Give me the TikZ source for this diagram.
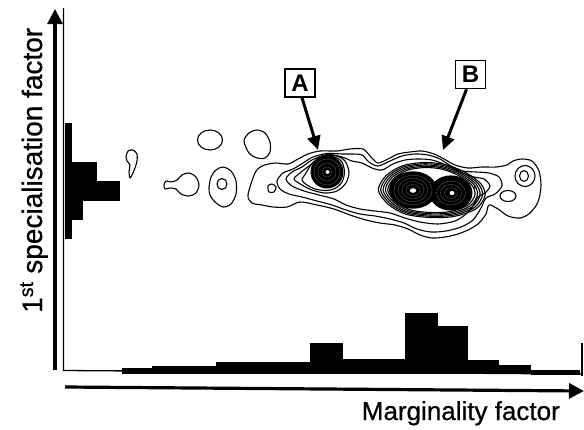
\documentclass[tikz,border=0pt]{standalone}
\usepackage{fontspec}
\setmainfont{Liberation Sans}
\newfontfamily\scanfont[FakeBold=0.7]{Liberation Sans}
\usetikzlibrary{arrows.meta}
\begin{document}
\begin{tikzpicture}[x=1pt,y=-1pt,
  contour/.style={line width=1.1pt, line join=round},
  gapring/.style={draw=black!55, line width=0.25pt},
  histbar/.style={fill=black, draw=none},
  axisarrow/.style={line width=3.2pt, -{Triangle[length=15pt,width=15pt]}},
  frameline/.style={line width=1.3pt},
  labelbox/.style={draw, line width=1.6pt, minimum width=30pt, minimum height=28pt, inner sep=0pt, font=\fontsize{24}{24}\selectfont\bfseries},
  pointer/.style={line width=3pt, -{Triangle[length=14pt,width=13pt]}},
]
\useasboundingbox (0,0) rectangle (584,429);

% histograms
\fill[histbar] (122,374) rectangle (152,367.5);
\fill[histbar] (152,374) rectangle (216,365.5);
\fill[histbar] (216,374) rectangle (310,361.5);
\fill[histbar] (310,374) rectangle (343,342.5);
\fill[histbar] (343,374) rectangle (405,359);
\fill[histbar] (405,374) rectangle (438,312.5);
\fill[histbar] (438,374) rectangle (468,325.5);
\fill[histbar] (468,374) rectangle (499,360);
\fill[histbar] (499,374) rectangle (531,365);
\fill[histbar] (531,375) rectangle (580,369.5);

\fill[histbar] (65,122.5) rectangle (72,161.5);
\fill[histbar] (65,161.5) rectangle (97,181);
\fill[histbar] (65,181) rectangle (119.5,201);
\fill[histbar] (65,201) rectangle (82.5,220);
\fill[histbar] (65,220) rectangle (72,239);

% frame
\coordinate (ftop) at (63.5,8);
\coordinate (fcorner) at (63.5,370.5);
\coordinate (fright) at (582,374);
\coordinate (rtop) at (582,343);
\coordinate (rbot) at (582,376);
\draw[frameline] (ftop) -- (fcorner) -- (fright);
\draw[frameline] (rtop) -- (rbot);

% axes
\coordinate (vbot) at (55,370);
\coordinate (vtop) at (55,9);
\draw[axisarrow] (vbot) -- (vtop);
\coordinate (hleft) at (65,387);
\coordinate (hright) at (584,391);
\draw[axisarrow] (hleft) -- (hright);

% axis labels
\node[rotate=90, anchor=base west, inner sep=0pt, font=\scanfont\fontsize{28}{28}\selectfont] (ylab) at (42,313) {1\textsuperscript{st} specialisation factor};
\node[anchor=base east, inner sep=0pt, font=\scanfont\fontsize{26}{26}\selectfont] (xlab) at (560,420) {Marginality factor};

% isolated contours
\draw[contour] plot[smooth cycle] coordinates {(126,157) (128,151) (133,150) (137,154) (137,161) (135,168) (132,175) (130,178) (129,172) (130,165) (127,161)};
\draw[contour] plot[smooth cycle] coordinates {(164,185) (166,181) (171,182) (177,180) (182,175) (189,173) (196,177) (199,185) (196,193) (189,196) (181,194) (176,189) (170,188) (165,189)};
\draw[contour] (210,140) ellipse [x radius=12.5pt, y radius=10pt];
\draw[contour] plot[smooth cycle] coordinates {(209,188) (211,177) (216,170) (223,167) (231,171) (236,181) (236,194) (231,204) (223,207) (215,202) (210,195)};
\draw[contour] (222,184) ellipse [x radius=5pt, y radius=5.5pt];
\draw[contour] plot[smooth cycle] coordinates {(244,141) (249,133) (257,130) (265,133) (270,142) (270,152) (265,158) (257,158) (249,153)};

% main contour system
\draw[contour] plot[smooth cycle] coordinates {(248,195) (255,173) (262,166) (275,163) (288,164) (298,159) (308,154) (320,151) (337,151) (350,149) (363,149) (371,157) (378,163) (388,159) (398,154) (410,152) (422,151) (434,154) (444,159) (455,165) (468,168) (482,167) (496,167) (507,165) (513,161) (522,159) (532,161) (539,171) (541,186) (538,202) (530,213) (520,218) (508,216) (498,209) (489,205) (486,214) (479,223) (470,229) (458,234) (445,237) (432,238) (420,235) (408,229) (395,225) (380,223) (366,220) (350,215) (334,209) (317,205) (300,202) (287,207) (273,207) (262,205) (252,203)};
\draw[contour] plot[smooth cycle] coordinates {(268,186) (272,184) (276,187) (274,192) (269,192)};
\draw[contour] plot[smooth cycle] coordinates {(277,181) (283,173) (293,169) (303,163) (313,157) (327,153.5) (342,154) (353,154) (362,155) (369,162) (378,166) (390,161) (402,156) (415,154) (428,155) (440,159) (451,166) (463,171) (476,172) (489,173) (499,177) (502,186) (495,194) (486,198) (481,208) (473,220) (461,227) (446,231) (431,232) (417,229) (404,223) (390,219) (375,216) (360,214) (346,210) (332,205) (317,201) (302,197) (289,194) (280,189)};
\draw[contour] plot[smooth cycle] coordinates {(286,179) (292,172) (302,167) (312,160) (327,154.5) (342,157) (352,161) (362,163) (372,168) (382,170) (393,164) (405,160) (418,159) (432,160) (446,165) (460,172) (474,177) (484,179) (490,186) (485,193) (478,197) (473,206) (466,214) (455,221) (438,224) (420,222) (405,218) (390,213) (375,211) (360,209) (346,205) (334,199) (319,195) (304,191) (292,186)};
\draw[contour] plot[smooth cycle] coordinates {(294,179) (300,173) (309,166) (318,159) (327,155.5) (337,156) (345,161) (349,172) (346,183) (337,191) (325,193) (312,190) (302,185)};
\draw[contour] plot[smooth cycle] coordinates {(302,180) (306,173) (311,165) (318,158.5) (327,156) (336,157.5) (342,162) (344.5,172) (342,182) (335,188.5) (326,190.5) (315,189) (307,185)};

% contours around B
\foreach \s in {0.9,0.95,1,1.05,1.1}{
  \begin{scope}[shift={(430,190)},scale=\s]
    \draw[contour] plot[smooth cycle] coordinates {(-47,0) (-40,-13) (-25,-22) (-5,-25) (14,-23) (32,-16) (46,-6) (50,5) (42,17) (22,24) (0,25) (-22,22) (-38,13)};
  \end{scope}}

% dense peaks: solid masses with faint gaps between rings
\fill (327,172) ellipse [x radius=16.5pt, y radius=16.5pt];
\fill (413,190) ellipse [x radius=24pt, y radius=18.7pt];
\fill (451,193) ellipse [x radius=21.5pt, y radius=17.6pt];
\foreach \r in {5,9,13}{
  \draw[gapring] (327,172) ellipse [x radius=\r pt, y radius=\r pt];}
\foreach \r in {7,11,15,19}{
  \draw[gapring] (413,190) ellipse [x radius=\r pt, y radius=0.78*\r pt];}
\foreach \r in {6.5,10.5,14.5}{
  \draw[gapring] (451,193) ellipse [x radius=\r pt, y radius=0.82*\r pt];}
\fill[white] (327.5,172) ellipse [x radius=2pt, y radius=1.8pt];
\fill[white] (413,190.5) ellipse [x radius=3.2pt, y radius=2.3pt];
\fill[white] (452,193) ellipse [x radius=2.5pt, y radius=2pt];

% right end features
\draw[contour] (525,176) ellipse [x radius=10pt, y radius=10.5pt];
\draw[contour] (524,176) ellipse [x radius=4.5pt, y radius=5.5pt];
\draw[contour] (508,196) ellipse [x radius=8pt, y radius=5.5pt];
\fill (475,187) circle [radius=1.6pt];

% labels A and B
\node[labelbox] (boxA) at (300,83) {A};
\node[labelbox] (boxB) at (470.5,74.5) {B};
\coordinate (tipA) at (318,150);
\coordinate (tipB) at (443,150);
\draw[pointer] ([xshift=2pt]boxA.south) -- (tipA);
\draw[pointer] ([xshift=-4pt]boxB.south) -- (tipB);
\end{tikzpicture}
\end{document}
